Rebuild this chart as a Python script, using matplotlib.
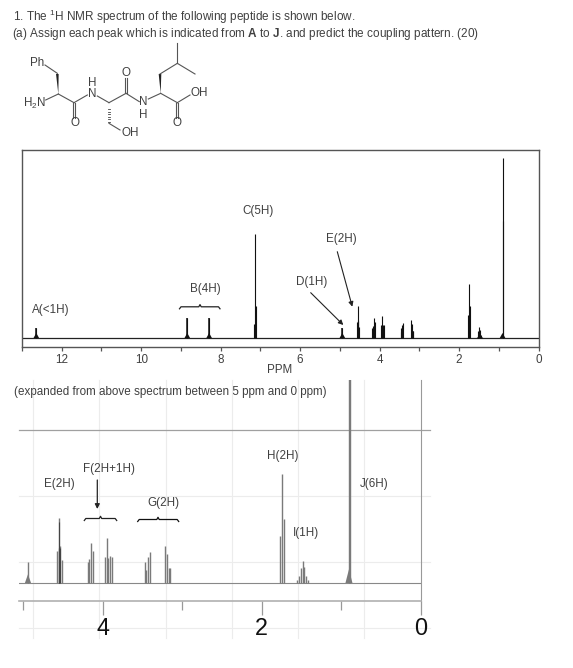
import matplotlib
matplotlib.use("Agg")
import matplotlib.pyplot as plt

plt.rcParams['font.family'] = ['Liberation Sans', 'DejaVu Sans']
plt.rcParams['mathtext.fontset'] = 'custom'
plt.rcParams['mathtext.rm'] = 'Liberation Sans'
plt.rcParams['mathtext.bf'] = 'Liberation Sans:bold'
plt.rcParams['mathtext.default'] = 'regular'

W, H = 573, 668

# peaks seen in both spectra, heights as read from the expanded one
ppm_d = [4.937]
h_d = [21]
ppm_e = [4.569, 4.551, 4.544, 4.535, 4.514]
h_e = [32, 35, 65, 37, 23]
ppm_f = [4.187, 4.167, 4.150, 4.124, 3.974, 3.949, 3.928, 3.903, 3.878]
h_f = [21, 24, 40, 32, 26, 45, 25, 27, 26]
ppm_g = [3.471, 3.451, 3.430, 3.408, 3.220, 3.195, 3.169, 3.149]
h_g = [21, 13, 26, 31, 37, 29, 15, 15]
ppm_h = [1.775, 1.750, 1.725]
h_h = [47, 109, 64]
ppm_i = [1.554, 1.533, 1.511, 1.486, 1.466, 1.445, 1.423]
h_i = [3, 7, 15, 22, 16, 7, 3]
ppm_j = [0.905, 0.896]
h_j = [360, 234]

# only in the full spectrum
ppm_a = [12.64]
h_a = [21]
ppm_b = [8.84, 8.29]
h_b = [41, 41]
ppm_c = [7.17, 7.13, 7.11]
h_c = [28, 208, 64]

full_ticks = [12, 10, 8, 6, 4, 2, 0]
full_minor = [13, 11, 9, 7, 5, 3, 1]
exp_ticks = [4, 2, 0]
exp_minor = [5, 3, 1]

TXT = '#404040'
FS = 8.4


def px_axes(fig, left, top, right, bottom):
    return fig.add_axes([left / W, 1 - bottom / H, (right - left) / W, (bottom - top) / H])


def singlet_foot(ax, p, foot, w, color):
    ax.fill([p - w, p, p + w], [0, foot, 0], color=color, lw=0)


fig = plt.figure(figsize=(W / 100, H / 100), dpi=100)

page = fig.add_axes([0, 0, 1, 1])
page.set_xlim(0, W)
page.set_ylim(H, 0)
page.axis('off')

# faint grid behind the expanded spectrum
for y in [495.7, 562.3, 628.3]:
    page.plot([19, 430], [y, y], color='#ececec', lw=0.8, zorder=0)
for x in [33, 99, 165.7, 231.7, 298, 364]:
    page.plot([x, x], [380, 638], color='#ececec', lw=0.8, zorder=0)
page.plot([19, 430], [429.7, 429.7], color='#a0a0a0', lw=0.9, zorder=0)

# header
page.text(13, 17, '1. The $^{1}$H NMR spectrum of the following peptide is shown below.', fontsize=8.45, color=TXT, va='center')
page.text(12, 34, r'(a) Assign each peak which is indicated from $\mathbf{A}$ to $\mathbf{J}$. and predict the coupling pattern. (20)', fontsize=8.45, color=TXT, va='center')

# molecule, zoom coordinates divided by 3
bonds = [
    [(135, 195), (172, 220)], [(137, 300), (175, 282)], [(175, 282), (222, 308)],
    [(222, 308), (262, 285)], [(292, 288), (327, 308)], [(327, 370), (360, 390)],
    [(327, 308), (378, 280)], [(378, 280), (418, 305)], [(445, 297), (482, 280)],
    [(480, 222), (532, 190)], [(532, 190), (532, 130)], [(532, 190), (585, 222)],
    [(482, 280), (532, 308)], [(532, 308), (570, 285)],
    [(219, 308), (219, 355)], [(225, 308), (225, 355)],
    [(375, 280), (375, 235)], [(381, 280), (381, 235)],
    [(529, 308), (529, 355)], [(535, 308), (535, 355)],
]
for a, b in bonds:
    page.plot([a[0] / 3, b[0] / 3], [a[1] / 3, b[1] / 3], color='#555555', lw=0.8)
for tip, end in [((175, 282), (172, 222)), ((482, 280), (480, 222))]:
    page.fill([tip[0] / 3, end[0] / 3 - 1.3, end[0] / 3 + 1.3], [tip[1] / 3, end[1] / 3, end[1] / 3], color='#222222', lw=0)
for i in range(8):
    y = (312 + i * 7.5) / 3
    hw = 0.3 + i * 0.13
    page.plot([327 / 3 - hw, 327 / 3 + hw], [y, y], color='#444444', lw=0.6)
atoms = [('Ph', 110, 190), ('H$_2$N', 103, 310), ('O', 225, 370), ('H', 277, 248), ('N', 277, 282),
         ('O', 378, 220), ('N', 430, 306), ('H', 430, 344), ('OH', 390, 400), ('OH', 597, 280), ('O', 532, 370)]
for s, x, y in atoms:
    page.text(x / 3, y / 3, s, fontsize=FS, color=TXT, ha='center', va='center')

# full spectrum
ax = px_axes(fig, 22, 150, 538.5, 346.5)
ax.patch.set_alpha(0)
ax.set_xlim(13, 0)
ax.set_ylim(-17, 376)
ax.plot([13, 0], [0, 0], color='#222222', lw=0.9)
shared_ppm = ppm_d + ppm_e + ppm_f + ppm_g + ppm_h + ppm_i + ppm_j
shared_h = h_d + h_e + h_f + h_g + h_h + h_i + h_j
ax.vlines(ppm_a + ppm_b + ppm_c + shared_ppm, 0, h_a + h_b + h_c + shared_h, color='#111111', lw=0.8)
ax.vlines(ppm_a + ppm_b + ppm_d, 0, h_a + h_b + h_d, color='#111111', lw=1.1)
for p in ppm_a + ppm_b + ppm_d + ppm_j[:1]:
    singlet_foot(ax, p, 10, 0.07, '#111111')
ax.set_xticks(full_ticks)
ax.set_xticks(full_minor, minor=True)
ax.set_yticks([])
ax.tick_params(axis='x', which='both', length=3.2, width=0.9, color='#555555', labelsize=FS, labelcolor=TXT, pad=2.5)
for s in ax.spines.values():
    s.set_color('#555555')
    s.set_linewidth(1)

page.text(280, 370, 'PPM', fontsize=FS, color=TXT, ha='center', va='center')
for s, x, y in [('A(<1H)', 50.7, 310), ('B(4H)', 205.7, 289), ('C(5H)', 257.7, 211),
                ('D(1H)', 311.7, 281.7), ('E(2H)', 341.7, 239.3)]:
    page.text(x, y, s, fontsize=FS, color=TXT, ha='center', va='center')
for start, end in [((337.3, 251.7), (352.3, 306.7)), ((310.7, 292.7), (343.3, 325))]:
    page.annotate('', xy=end, xytext=start,
                  arrowprops=dict(arrowstyle='-|>', color='#222222', lw=0.8, mutation_scale=7, shrinkA=0, shrinkB=0))


def brace(x0, x1, tip, y, color='#222222'):
    page.plot([x0, x0 + 1.5, tip - 1.2, tip, tip + 1.2, x1 - 1.5, x1],
              [y + 2, y, y, y - 2.2, y, y, y + 2], color=color, lw=0.9)


brace(179.5, 220, 200, 306.8)

# expanded spectrum
ax2 = px_axes(fig, 19.3, 380, 421, 601)
ax2.patch.set_alpha(0)
ax2.set_xlim(5.046, 0)
ax2.set_ylim(-17.7, 203.3)
GR = '#7a7a7a'
ax2.plot([5.046, 0], [0, 0], color='#888888', lw=0.8)
ax2.vlines(shared_ppm, 0, shared_h, color=GR, lw=1)
ax2.vlines(ppm_e[1:4], 0, [h * 0.95 for h in h_e[1:4]], color='#444444', lw=0.8)
singlet_foot(ax2, ppm_d[0], 9, 0.04, GR)
singlet_foot(ax2, ppm_j[0], 14, 0.045, GR)
for s in ['left', 'top']:
    ax2.spines[s].set_visible(False)
ax2.spines['right'].set_color('#999999')
ax2.spines['bottom'].set_color('#b0b0b0')
ax2.spines['bottom'].set_linewidth(1.2)
ax2.set_yticks([])
ax2.set_xticks(exp_ticks)
ax2.set_xticks(exp_minor, minor=True)
ax2.tick_params(axis='x', which='major', length=10, width=0.9, color='#999999', labelsize=16.8, labelcolor='#111111', pad=1.5)
ax2.tick_params(axis='x', which='minor', length=6.5, width=0.9, color='#999999')

page.text(14, 391.7, '(expanded from above spectrum between 5 ppm and 0 ppm)', fontsize=FS, color=TXT, va='center')
for s, x, y in [('E(2H)', 59, 484.3), ('F(2H+1H)', 109.3, 469), ('G(2H)', 163.3, 503.3),
                ('H(2H)', 282.7, 456.3), ('I(1H)', 306, 533.3), ('J(6H)', 374, 484.3)]:
    page.text(x, y, s, fontsize=FS, color=TXT, ha='center', va='center')
page.annotate('', xy=(97.3, 509), xytext=(97.3, 480),
              arrowprops=dict(arrowstyle='-|>', color='#222222', lw=0.9, mutation_scale=7, shrinkA=0, shrinkB=0))
brace(84.3, 116.7, 100.5, 518.5)
brace(137.7, 178.7, 158, 519.5, color='#111111')

plt.savefig('out.png', dpi=100)
